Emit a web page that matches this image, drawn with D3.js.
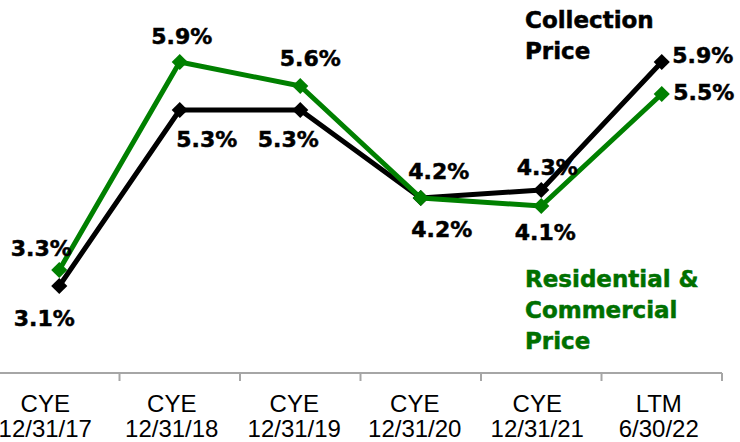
<!DOCTYPE html>
<html>
<head>
<meta charset="utf-8">
<script src="https://cdn.jsdelivr.net/npm/d3@7/dist/d3.min.js"></script>
<style>
  html, body { margin: 0; padding: 0; background: #fff; }
  svg { display: block; }
</style>
</head>
<body>
<svg id="chart" width="740" height="442"></svg>
<script>
// ---- data ----
const categories = ["CYE|12/31/17", "CYE|12/31/18", "CYE|12/31/19", "CYE|12/31/20", "CYE|12/31/21", "LTM|6/30/22"];
const collectionPrice = [3.1, 5.3, 5.3, 4.2, 4.3, 5.9];
const residentialPrice = [3.3, 5.9, 5.6, 4.2, 4.1, 5.5];
const collectionName = ["Collection", "Price"];
const residentialName = ["Residential &", "Commercial", "Price"];

// layout tweaks (not data)
const categoryLabelShift = [-14, -8, -6, -6, -4, -3];
const collectionLabelOffsets = [[-15, 40], [27, 37], [-12, 37], [18, -19], [6, -15], [41, 1]];
const residentialLabelOffsets = [[-18, -14], [2, -18], [10, -20], [21, 39], [4, 34], [42, 6]];

const svg = d3.select("#chart");

const x = d3.scaleBand().domain(categories).range([-1, 722]);
const y = d3.scaleLinear().domain([3, 6]).range([294, 54]);
const axisY = 373;

// axis
const axis = d3.axisBottom(x).tickSize(0).tickFormat("");
const gAxis = svg.append("g").attr("transform", `translate(0,${axisY})`).call(axis);
gAxis.select(".domain").attr("stroke", "#a6a6a6").attr("stroke-width", 2).attr("d", `M0,0H${x.range()[1]}`);
const bounds = categories.map(c => x(c) + x.bandwidth()).filter(b => b > 0);
gAxis.selectAll("line.sep").data(bounds).enter().append("line")
  .attr("class", "sep")
  .attr("x1", d => d).attr("x2", d => d)
  .attr("y1", 0).attr("y2", 8)
  .attr("stroke", "#a6a6a6").attr("stroke-width", 2);

// category labels
const catG = svg.append("g");
categories.forEach((c, ci) => {
  const parts = c.split("|");
  const lx = x(c) + x.bandwidth() / 2 + categoryLabelShift[ci];
  const t = catG.append("text")
    .attr("text-anchor", "middle")
    .attr("font-family", "'Liberation Sans', Arial, sans-serif")
    .attr("font-size", 24)
    .attr("fill", "#000");
  parts.forEach((p, i) => {
    t.append("tspan").attr("x", lx).attr("y", 412 + i * 25).text(p);
  });
});

const cx = i => x(categories[i]) + x.bandwidth() / 2;

function drawSeries(values, color) {
  const line = d3.line().x((d, i) => cx(i)).y(d => y(d));
  svg.append("path").datum(values)
    .attr("d", line)
    .attr("fill", "none")
    .attr("stroke", color)
    .attr("stroke-width", 5)
    .attr("stroke-linejoin", "round");
  const sym = d3.symbol().type(d3.symbolSquare).size(130);
  svg.append("g").selectAll("path").data(values).enter().append("path")
    .attr("d", sym)
    .attr("transform", (d, i) => `translate(${cx(i)},${y(d)}) rotate(45)`)
    .attr("fill", color);
}

drawSeries(collectionPrice, "#000000");
drawSeries(residentialPrice, "#008000");

function drawLabels(values, offsets) {
  svg.append("g").selectAll("text").data(values).enter().append("text")
    .attr("x", (d, i) => cx(i) + offsets[i][0])
    .attr("y", (d, i) => y(d) + offsets[i][1])
    .attr("text-anchor", "middle")
    .attr("font-family", "'DejaVu Sans', Verdana, sans-serif")
    .attr("font-weight", "bold")
    .attr("font-size", 22)
    .attr("fill", "#000")
    .attr("stroke", "#000")
    .attr("stroke-width", 0.5)
    .text(d => d.toFixed(1) + "%");
}
drawLabels(collectionPrice, collectionLabelOffsets);
drawLabels(residentialPrice, residentialLabelOffsets);

function drawName(lines, x0, y0, color) {
  const t = svg.append("text")
    .attr("font-family", "'DejaVu Sans', Verdana, sans-serif")
    .attr("font-weight", "bold")
    .attr("font-size", 23)
    .attr("fill", color)
    .attr("stroke", color)
    .attr("stroke-width", 0.5);
  lines.forEach((l, i) => {
    t.append("tspan").attr("x", x0).attr("y", y0 + i * 31).text(l);
  });
}
drawName(collectionName, 525, 28, "#000");
drawName(residentialName, 525, 287, "#007000");
</script>
</body>
</html>
